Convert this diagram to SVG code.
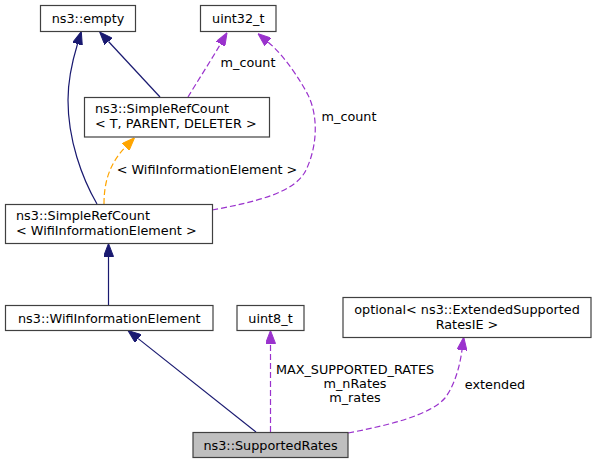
<svg xmlns="http://www.w3.org/2000/svg" width="596" height="464" viewBox="0 0 596 464">
<style>
.box{fill:#ffffff;stroke:#404040;stroke-width:1.2}
.hl{fill:#bfbfbf;stroke:#404040;stroke-width:1.2}
text{font-family:"DejaVu Sans","Noto Sans",sans-serif;font-size:12.8px;fill:#000}
.c{text-anchor:middle}
.inh{fill:none;stroke:#191970;stroke-width:1.2}
.use{fill:none;stroke:#9a32cd;stroke-width:1.2;stroke-dasharray:6,3}
.tpl{fill:none;stroke:#ffa500;stroke-width:1.2;stroke-dasharray:6,3}
</style>
<defs>
<marker id="aNavy" markerUnits="userSpaceOnUse" viewBox="0 0 13 10" refX="0" refY="5" markerWidth="13" markerHeight="10" orient="auto"><path d="M0,0 L13,5 L0,10 z" fill="#191970" stroke="#191970"/></marker>
<marker id="aPurple" markerUnits="userSpaceOnUse" viewBox="0 0 13 10" refX="0" refY="5" markerWidth="13" markerHeight="10" orient="auto"><path d="M0,0 L13,5 L0,10 z" fill="#9a32cd" stroke="#9a32cd"/></marker>
<marker id="aOrange" markerUnits="userSpaceOnUse" viewBox="0 0 13 10" refX="0" refY="5" markerWidth="13" markerHeight="10" orient="auto"><path d="M0,0 L13,5 L0,10 z" fill="#ffa500" stroke="#ffa500"/></marker>
</defs>
<rect width="596" height="464" fill="#ffffff"/>
<g id="edges">
<path class="inh" d="M97,204 C82,178 68,140 68,100 C68,80 72,62 77.5,44" marker-end="url(#aNavy)"/>
<path class="inh" d="M160,97 L108.5,41.5" marker-end="url(#aNavy)"/>
<path class="use" d="M188,97 C197,82 210,62 220.5,44" marker-end="url(#aPurple)"/>
<text x="248" y="67" class="c">m_count</text>
<path class="use" d="M212,210 C255,202 295,193 306,170 C318,145 318,115 308,95 C302,83 285,56 268,42" marker-end="url(#aPurple)"/>
<text x="349" y="121" class="c">m_count</text>
<path class="tpl" d="M104,204 C104,185 108,165 125.5,147" marker-end="url(#aOrange)"/>
<text x="207" y="174" class="c">&lt; WifiInformationElement &gt;</text>
<path class="inh" d="M108.5,305 L108.5,256.5" marker-end="url(#aNavy)"/>
<path class="inh" d="M256,432 L138.2,338.6" marker-end="url(#aNavy)"/>
<path class="use" d="M270.5,432 L270.5,343.5" marker-end="url(#aPurple)"/>
<text x="355" y="374" class="c">MAX_SUPPORTED_RATES</text>
<text x="355" y="388" class="c">m_nRates</text>
<text x="355" y="402" class="c">m_rates</text>
<path class="use" d="M348,433 C390,425 430,415 445,398 C455,385 460,365 462,350" marker-end="url(#aPurple)"/>
<text x="495" y="389" class="c">extended</text>
</g>
<g id="node-empty">
<rect class="box" x="40.5" y="5.5" width="95" height="26"/>
<text x="88" y="23" class="c">ns3::empty</text>
</g>
<g id="node-uint32">
<rect class="box" x="200.5" y="5.5" width="75.5" height="26"/>
<text x="238.3" y="23" class="c">uint32_t</text>
</g>
<g id="node-src-tpd">
<rect class="box" x="84.5" y="97.5" width="185" height="39.5"/>
<text x="95" y="113">ns3::SimpleRefCount</text>
<text x="95" y="128">&lt; T, PARENT, DELETER &gt;</text>
</g>
<g id="node-src-wie">
<rect class="box" x="5.5" y="204.5" width="207" height="39"/>
<text x="16" y="220">ns3::SimpleRefCount</text>
<text x="16" y="235">&lt; WifiInformationElement &gt;</text>
</g>
<g id="node-wie">
<rect class="box" x="5.5" y="305.5" width="207.5" height="25"/>
<text x="109.3" y="322.5" class="c">ns3::WifiInformationElement</text>
</g>
<g id="node-uint8">
<rect class="box" x="237" y="305.5" width="67" height="25"/>
<text x="270.5" y="322.5" class="c">uint8_t</text>
</g>
<g id="node-optional">
<rect class="box" x="343" y="297.5" width="248" height="40"/>
<text x="467" y="313.5" class="c">optional&lt; ns3::ExtendedSupported</text>
<text x="467" y="328.5" class="c">RatesIE &gt;</text>
</g>
<g id="node-supportedrates">
<rect class="hl" x="193" y="432.5" width="155" height="25"/>
<text x="270.5" y="449.5" class="c">ns3::SupportedRates</text>
</g>
</svg>
